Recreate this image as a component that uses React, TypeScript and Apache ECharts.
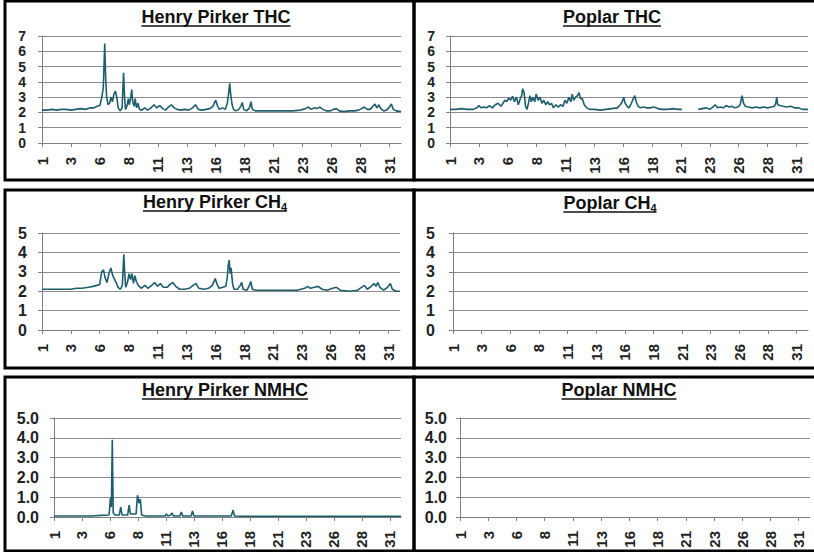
import React, { useEffect, useRef } from 'react';
import * as echarts from 'echarts';

// ---------- data ----------
const dayTickLabels = ['1', '3', '6', '8', '11', '13', '16', '18', '21', '23', '26', '28', '31'];
const hoursPerTick = 60;
const monthHours = 744;

// [hour of month, ppm]
const henryPirkerTHC: [number, number][] = [
  [0,2.15],[10,2.15],[20,2.2],[30,2.15],[40,2.2],[50,2.2],[60,2.15],[70,2.2],[80,2.25],[90,2.2],[100,2.3],[108,2.3],[114,2.4],[120,2.45],
  [124,3.0],[127,3.6],[130,6.5],[132,4.2],[134,3.0],[137,2.5],[140,2.6],[143,3.0],[146,2.7],[149,3.2],[152,3.4],[155,3.0],[158,2.3],[162,2.1],
  [166,2.3],[169,4.6],[171,3.1],[173,2.2],[176,2.4],[179,2.9],[181,2.5],[184,3.0],[186,3.5],[188,2.7],[191,2.4],[193,2.9],[196,2.3],[199,2.6],
  [202,2.2],[207,2.15],[213,2.3],[219,2.15],[226,2.3],[232,2.5],[238,2.3],[244,2.45],[250,2.25],[256,2.15],[262,2.35],[268,2.5],[274,2.3],
  [280,2.2],[288,2.15],[296,2.2],[304,2.15],[312,2.3],[318,2.5],[324,2.2],[332,2.15],[340,2.2],[348,2.25],[354,2.4],[360,2.8],[364,2.4],
  [368,2.2],[374,2.3],[380,2.2],[384,2.6],[387,3.3],[389,3.9],[391,3.2],[394,2.5],[397,2.2],[402,2.1],[408,2.2],[412,2.4],[415,2.65],[418,2.2],
  [424,2.1],[430,2.3],[433,2.7],[436,2.2],[442,2.1],[460,2.1],[480,2.1],[500,2.1],[520,2.1],[536,2.15],[546,2.25],[552,2.35],[558,2.2],
  [564,2.3],[570,2.25],[576,2.35],[582,2.2],[590,2.1],[598,2.1],[604,2.2],[610,2.25],[616,2.1],[626,2.05],[636,2.1],[648,2.1],[656,2.15],
  [662,2.25],[668,2.35],[674,2.2],[680,2.2],[686,2.4],[690,2.55],[694,2.3],[698,2.5],[702,2.25],[708,2.1],[714,2.15],[720,2.35],[724,2.55],
  [728,2.2],[734,2.1],[744,2.05]
];

const poplarTHC: [number, number | string][] = [
  [0,2.2],[12,2.2],[24,2.25],[36,2.2],[48,2.2],[56,2.3],[60,2.45],[64,2.3],[70,2.35],[76,2.3],[82,2.45],[88,2.3],[94,2.5],[100,2.6],[106,2.4],
  [110,2.6],[114,2.8],[118,2.7],[122,2.95],[126,2.8],[130,3.05],[134,2.7],[138,3.0],[142,2.5],[146,2.9],[149,3.1],[151,3.55],[154,3.3],[157,2.4],
  [160,2.2],[163,2.6],[166,3.1],[169,2.7],[172,3.0],[176,2.7],[179,3.2],[183,2.8],[187,3.0],[191,2.6],[195,2.8],[199,2.5],[203,2.7],[207,2.5],
  [211,2.6],[215,2.3],[220,2.5],[225,2.35],[230,2.5],[235,2.4],[239,2.8],[243,2.6],[247,3.0],[251,2.7],[254,3.2],[257,2.8],[261,3.0],[265,3.1],
  [268,3.3],[271,2.9],[275,2.9],[279,2.5],[284,2.3],[290,2.2],[300,2.2],[312,2.15],[324,2.2],[336,2.25],[348,2.3],[354,2.5],[358,2.7],[361,3.0],
  [364,2.6],[368,2.4],[372,2.3],[377,2.6],[381,2.9],[384,3.1],[387,2.7],[391,2.4],[396,2.3],[402,2.35],[408,2.3],[416,2.3],[424,2.35],[432,2.25],
  [440,2.2],[452,2.2],[464,2.25],[474,2.2],[482,2.2],[490,'-'],[516,2.2],[524,2.25],[532,2.3],[540,2.2],[546,2.35],[551,2.5],[556,2.3],[562,2.35],
  [568,2.3],[574,2.45],[580,2.35],[586,2.4],[592,2.3],[598,2.35],[603,2.5],[607,3.1],[610,2.6],[614,2.4],[620,2.35],[628,2.3],[636,2.35],
  [644,2.3],[652,2.35],[660,2.3],[668,2.35],[674,2.4],[677,2.6],[679,3.0],[681,2.5],[686,2.45],[692,2.4],[700,2.35],[708,2.4],[716,2.3],
  [724,2.3],[732,2.2],[744,2.2]
];

const henryPirkerCH4: [number, number][] = [
  [0,2.1],[12,2.1],[24,2.1],[36,2.1],[48,2.1],[60,2.1],[72,2.15],[84,2.15],[96,2.2],[106,2.25],[114,2.3],[120,2.35],[124,3.0],[128,3.1],
  [131,2.7],[135,2.45],[139,2.9],[143,3.2],[147,2.8],[151,2.6],[155,2.4],[158,2.2],[163,2.1],[167,2.3],[170,3.9],[172,2.9],[174,2.2],[178,2.5],
  [181,2.9],[184,2.6],[187,2.9],[190,2.4],[193,2.8],[196,2.5],[200,2.3],[206,2.15],[214,2.3],[220,2.15],[228,2.3],[234,2.45],[240,2.25],
  [246,2.4],[252,2.2],[260,2.2],[266,2.35],[272,2.45],[278,2.25],[286,2.1],[296,2.1],[306,2.15],[314,2.3],[320,2.4],[326,2.15],[336,2.1],
  [346,2.15],[354,2.3],[360,2.65],[364,2.35],[368,2.15],[376,2.2],[382,2.25],[385,2.7],[387,3.3],[389,3.6],[391,2.9],[393,3.2],[396,2.4],
  [399,2.1],[406,2.1],[412,2.3],[415,2.45],[418,2.1],[426,2.05],[431,2.3],[434,2.5],[437,2.1],[444,2.05],[470,2.05],[500,2.05],[530,2.05],
  [546,2.15],[552,2.25],[558,2.15],[566,2.2],[574,2.25],[582,2.1],[592,2.05],[604,2.15],[612,2.2],[620,2.05],[640,2.0],[656,2.05],[664,2.2],
  [670,2.3],[676,2.1],[684,2.25],[690,2.4],[694,2.25],[698,2.45],[702,2.2],[710,2.05],[718,2.2],[724,2.4],[728,2.1],[736,2.0],[744,2.0]
];

const poplarCH4: [number, number][] = [];

const henryPirkerNMHC: [number, number][] = [
  [0,0.05],[20,0.05],[40,0.05],[60,0.05],[80,0.05],[100,0.08],[118,0.1],[121,0.95],[123,0.5],[125,3.9],[127,0.2],[131,0.1],[140,0.1],
  [143,0.5],[146,0.1],[158,0.1],[161,0.6],[164,0.15],[176,0.15],[179,1.1],[182,0.7],[185,0.9],[188,0.1],[196,0.05],[220,0.05],[238,0.05],
  [241,0.15],[244,0.05],[250,0.1],[253,0.2],[256,0.05],[270,0.05],[273,0.25],[276,0.05],[294,0.05],[297,0.3],[300,0.05],[340,0.05],
  [380,0.05],[384,0.35],[387,0.05],[420,0.03],[480,0.03],[560,0.03],[640,0.03],[700,0.03],[744,0.03]
];

const poplarNMHC: [number, number][] = [];

// ---------- layout ----------
const FONT = '"Liberation Sans", Arial, sans-serif';
const LINE_COLOR = '#1f5e6c';

const panels = [
  { title: 'Henry Pirker ', gas: 'THC', sub: '', data: henryPirkerTHC, yMax: 7, dec: 0, yFont: 14,
    box: [5, 1, 409, 179], grid: [42, 36, 359, 107], yMargin: 16, cx: 216, cy: 17 },
  { title: 'Poplar ', gas: 'THC', sub: '', data: poplarTHC, yMax: 7, dec: 0, yFont: 14,
    box: [414, 1, 410, 179], grid: [450, 36, 358, 107], yMargin: 15, cx: 612, cy: 17 },
  { title: 'Henry Pirker ', gas: 'CH', sub: '4', data: henryPirkerCH4, yMax: 5, dec: 0, yFont: 16,
    box: [5, 190, 409, 178], grid: [42, 233, 358, 97], yMargin: 15, cx: 215, cy: 202 },
  { title: 'Poplar ', gas: 'CH', sub: '4', data: poplarCH4, yMax: 5, dec: 0, yFont: 16,
    box: [414, 190, 410, 178], grid: [453, 233, 355, 97], yMargin: 18, cx: 610, cy: 203 },
  { title: 'Henry Pirker ', gas: 'NMHC', sub: '', data: henryPirkerNMHC, yMax: 5, dec: 1, yFont: 16,
    box: [5, 377, 409, 174], grid: [54, 418, 347, 99], yMargin: 15, cx: 225, cy: 390 },
  { title: 'Poplar ', gas: 'NMHC', sub: '', data: poplarNMHC, yMax: 5, dec: 1, yFont: 16,
    box: [414, 377, 410, 174], grid: [460, 418, 350, 99], yMargin: 13, cx: 619, cy: 390 },
];

function measure(text: string, size: number): number {
  const c = document.createElement('canvas').getContext('2d');
  if (!c) return text.length * size * 0.55;
  c.font = `bold ${size}px ${FONT}`;
  return c.measureText(text).width;
}

export default function App() {
  const ref = useRef<HTMLDivElement>(null);
  useEffect(() => {
    if (!ref.current) return;
    const chart = echarts.init(ref.current, undefined, { renderer: 'svg' });

    const graphic: any[] = [];
    panels.forEach((p) => {
      graphic.push({
        type: 'rect', silent: true,
        shape: { x: p.box[0], y: p.box[1], width: p.box[2], height: p.box[3] },
        style: { fill: 'none', stroke: '#000', lineWidth: 3 },
      });
      const mainText = p.title + p.gas;
      const w1 = measure(mainText, 18);
      const w2 = p.sub ? measure(p.sub, 11) : 0;
      const w = w1 + w2;
      const x0 = p.cx - w / 2;
      graphic.push({
        type: 'text', silent: true,
        style: { text: mainText, x: x0, y: p.cy, fill: '#111', fontSize: 18, fontWeight: 'bold', fontFamily: FONT, align: 'left', verticalAlign: 'middle' },
      });
      if (p.sub) {
        graphic.push({
          type: 'text', silent: true,
          style: { text: p.sub, x: x0 + w1, y: p.cy + 5, fill: '#111', fontSize: 11, fontWeight: 'bold', fontFamily: FONT, align: 'left', verticalAlign: 'middle' },
        });
      }
      graphic.push({
        type: 'line', silent: true,
        shape: { x1: x0, y1: p.cy + 9, x2: x0 + w, y2: p.cy + 9 },
        style: { stroke: '#111', lineWidth: 1.5 },
      });
    });

    const option: any = {
      animation: false,
      backgroundColor: '#ffffff',
      grid: panels.map((p) => ({ left: p.grid[0], top: p.grid[1], width: p.grid[2], height: p.grid[3] })),
      xAxis: panels.map((p, i) => ({
        type: 'value', gridIndex: i, min: 0, max: monthHours, interval: hoursPerTick,
        axisLine: { show: true, onZero: false, lineStyle: { color: '#808080', width: 1 } },
        axisTick: { show: true, length: 4, lineStyle: { color: '#808080' } },
        splitLine: { show: false },
        axisLabel: {
          rotate: 90, margin: 14, fontSize: 15, fontWeight: 'bold', color: '#222', fontFamily: FONT,
          showMaxLabel: false,
          formatter: (v: number) => {
            const k = v / hoursPerTick;
            return Number.isInteger(k) && dayTickLabels[k] ? dayTickLabels[k] : '';
          },
        },
      })),
      yAxis: panels.map((p, i) => ({
        type: 'value', gridIndex: i, min: 0, max: p.yMax, interval: 1,
        axisLine: { show: true, lineStyle: { color: '#808080', width: 1 } },
        axisTick: { show: true, length: 4, lineStyle: { color: '#808080' } },
        splitLine: { show: true, lineStyle: { color: '#8c8c8c', width: 1 } },
        axisLabel: {
          margin: p.yMargin, fontSize: p.yFont, fontWeight: 'bold', color: '#222', fontFamily: FONT,
          showMinLabel: true, showMaxLabel: true, hideOverlap: false,
          formatter: (v: number) => (p.dec ? v.toFixed(p.dec) : String(v)),
        },
      })),
      series: panels.map((p, i) => ({
        type: 'line', name: p.title + p.gas + p.sub, xAxisIndex: i, yAxisIndex: i,
        data: p.data, showSymbol: false, symbol: 'none', connectNulls: false,
        lineStyle: { color: LINE_COLOR, width: 1.6 }, itemStyle: { color: LINE_COLOR },
      })),
      graphic,
    };
    chart.setOption(option);
    return () => chart.dispose();
  }, []);
  return <div ref={ref} style={{ position: 'absolute', left: 0, top: 0, width: 814, height: 552 }} />;
}
